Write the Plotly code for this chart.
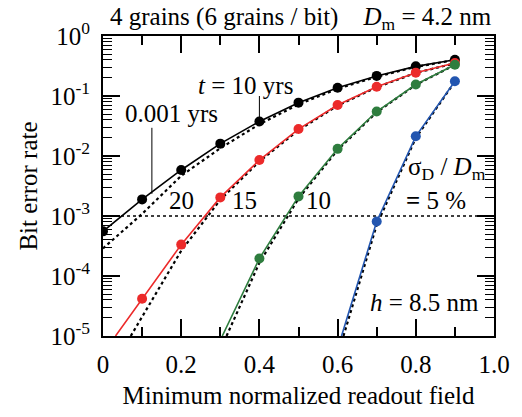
import plotly.graph_objects as go

# ---- data (log10 of bit error rate) ----
# t = 10 yrs, points (log10 BER)
black_x = [0.0, 0.1, 0.2, 0.3, 0.4, 0.5, 0.6, 0.7, 0.8, 0.9]
black_log = [-3.256, -2.723, -2.233, -1.794, -1.424, -1.111, -0.863, -0.665, -0.506, -0.396]
red_x = [0.1, 0.2, 0.3, 0.4, 0.5, 0.6, 0.7, 0.8, 0.9]
red_log = [-4.378, -3.477, -2.690, -2.068, -1.551, -1.150, -0.847, -0.611, -0.451]
green_x = [0.4, 0.5, 0.6, 0.7, 0.8, 0.9]
green_log = [-3.708, -2.673, -1.881, -1.259, -0.809, -0.479]
blue_x = [0.7, 0.8, 0.9]
blue_log = [-3.091, -1.672, -0.754]

# solid fitted curves (t = 10 yrs), extended to the bottom of the axis
black_line_x = [0.0, 0.1, 0.2, 0.3, 0.4, 0.5, 0.6, 0.7, 0.8, 0.9]
black_line_log = [-3.256, -2.723, -2.233, -1.794, -1.424, -1.111, -0.863, -0.665, -0.506, -0.396]
red_line_x = [0.032, 0.1, 0.2, 0.3, 0.4, 0.5, 0.6, 0.7, 0.8, 0.9]
red_line_log = [-5.0, -4.378, -3.477, -2.690, -2.068, -1.551, -1.150, -0.847, -0.611, -0.451]
green_line_x = [0.305, 0.4, 0.5, 0.6, 0.7, 0.8, 0.9]
green_line_log = [-5.0, -3.708, -2.673, -1.881, -1.259, -0.809, -0.479]
blue_line_x = [0.61, 0.7, 0.8, 0.9]
blue_line_log = [-5.0, -3.091, -1.672, -0.754]

# dotted curves (t = 0.001 yrs)
black_dot_x = [0.0, 0.1, 0.2, 0.3, 0.4, 0.5, 0.6, 0.7, 0.8, 0.9]
black_dot_log = [-3.54, -2.965, -2.33, -1.87, -1.47, -1.14, -0.88, -0.68, -0.515, -0.40]
red_dot_x = [0.071, 0.1, 0.2, 0.3, 0.4, 0.5, 0.6, 0.7, 0.8, 0.9]
red_dot_log = [-5.0, -4.68, -3.58, -2.73, -2.09, -1.57, -1.16, -0.855, -0.615, -0.455]
green_dot_x = [0.316, 0.4, 0.5, 0.6, 0.7, 0.8, 0.9]
green_dot_log = [-5.0, -3.78, -2.71, -1.90, -1.27, -0.815, -0.48]
blue_dot_x = [0.615, 0.7, 0.8, 0.9]
blue_dot_log = [-5.0, -3.15, -1.70, -0.76]

# reference level
ref_x = [0.0, 1.0]
ref_log = [-3.0, -3.0]

# pointer lines for labels
ptr_t10_x = [0.4, 0.4]
ptr_t10_log = [-1.0, -1.40]
ptr_001_x = [0.125, 0.125]
ptr_001_log = [-1.53, -2.63]

x_tickvals = [0, 0.2, 0.4, 0.6, 0.8, 1.0]
x_ticktext = ["0", "0.2", "0.4", "0.6", "0.8", "1.0"]
y_tickvals = [1e-5, 1e-4, 1e-3, 1e-2, 1e-1, 1]
y_ticktext = ["10<sup>-5</sup>", "10<sup>-4</sup>", "10<sup>-3</sup>",
              "10<sup>-2</sup>", "10<sup>-1</sup>", "10<sup>0</sup>"]

RED = "#ec2a2a"
GREEN = "#2e7d3e"
BLUE = "#2356b0"
FONT = "Liberation Serif"


def p10(v):
    return [10 ** a for a in v]


fig = go.Figure()

# reference dotted line
fig.add_trace(go.Scatter(x=ref_x, y=p10(ref_log), mode="lines",
                         line=dict(color="black", width=1.6, dash="dot"),
                         hoverinfo="skip"))

# dotted (0.001 yrs) curves
for xs, ys in [(black_dot_x, black_dot_log), (red_dot_x, red_dot_log),
               (green_dot_x, green_dot_log), (blue_dot_x, blue_dot_log)]:
    fig.add_trace(go.Scatter(x=xs, y=p10(ys), mode="lines",
                             line=dict(color="black", width=2.2, dash="dot"),
                             hoverinfo="skip"))

# solid curves
for xs, ys, c in [(black_line_x, black_line_log, "black"), (red_line_x, red_line_log, RED),
                  (green_line_x, green_line_log, GREEN), (blue_line_x, blue_line_log, BLUE)]:
    fig.add_trace(go.Scatter(x=xs, y=p10(ys), mode="lines",
                             line=dict(color=c, width=1.6), hoverinfo="skip"))

# markers
for xs, ys, c in [(black_x, black_log, "black"), (red_x, red_log, RED),
                  (green_x, green_log, GREEN), (blue_x, blue_log, BLUE)]:
    fig.add_trace(go.Scatter(x=xs, y=p10(ys), mode="markers",
                             marker=dict(color=c, size=10, line=dict(width=0))))

# pointer lines
for xs, ys in [(ptr_t10_x, ptr_t10_log), (ptr_001_x, ptr_001_log)]:
    fig.add_trace(go.Scatter(x=xs, y=p10(ys), mode="lines",
                             line=dict(color="black", width=1), hoverinfo="skip"))

minor_y = [m * 10 ** e for e in range(-5, 0) for m in range(2, 10)]

fig.update_layout(
    width=522, height=417,
    margin=dict(l=103, r=16, t=36, b=77),
    paper_bgcolor="white", plot_bgcolor="white",
    showlegend=False,
    font=dict(family=FONT, size=25, color="black"),
    xaxis=dict(
        range=[0, 1.0], tickmode="array", tickvals=x_tickvals, ticktext=x_ticktext,
        ticks="inside", ticklen=17, tickwidth=1.5, tickcolor="black",
        showline=True, linewidth=1.8, linecolor="black", mirror="allticks",
        showgrid=False, zeroline=False,
        minor=dict(tickmode="array", tickvals=[0.1, 0.3, 0.5, 0.7, 0.9],
                   ticks="inside", ticklen=9, tickwidth=1.5, tickcolor="black", showgrid=False),
        tickfont=dict(family=FONT, size=25),
        ticklabelstandoff=5,
        title=dict(text="Minimum normalized readout field", font=dict(family=FONT, size=25), standoff=10),
    ),
    yaxis=dict(
        type="log", range=[-5, 0], tickmode="array", tickvals=y_tickvals, ticktext=y_ticktext,
        ticks="inside", ticklen=17, tickwidth=1.5, tickcolor="black",
        showline=True, linewidth=1.8, linecolor="black", mirror="allticks",
        showgrid=False, zeroline=False,
        minor=dict(tickmode="array", tickvals=minor_y,
                   ticks="inside", ticklen=9, tickwidth=1.2, tickcolor="black", showgrid=False),
        tickfont=dict(family=FONT, size=25),
        ticklabelstandoff=6,
        title=dict(text="Bit error rate", font=dict(family=FONT, size=25), standoff=6),
    ),
)

NB = "\u00a0"
anns = [
    (1.0, 18, "4 grains (6 grains / bit)" + NB * 4 + "<i>D</i><sub>m</sub> = 4.2 nm", "right"),
    ((250 - 103) / 403, 86, "<i>t</i> = 10 yrs", "center"),
    ((173.5 - 103) / 403, 115, "0.001 yrs", "center"),
    ((184 - 103) / 403, 203, "20", "center"),
    ((249 - 103) / 403, 203, "15", "center"),
    ((325 - 103) / 403, 203, "10", "center"),
    ((500 - 103) / 403, 170, "σ<sub>D</sub> / <i>D</i><sub>m</sub>", "right"),
    ((446 - 103) / 403, 203, "<b>=</b> 5 %", "center"),
    ((493 - 103) / 403, 306, "<i>h</i> = 8.5 nm", "right"),
]
for ax_, py, txt, anchor in anns:
    fig.add_annotation(x=ax_, xref="paper", y=(340 - py) / 304, yref="paper",
                       text=txt, xanchor=anchor, yanchor="middle", showarrow=False,
                       font=dict(family=FONT, size=25, color="black"))

fig.write_html("out.html")
